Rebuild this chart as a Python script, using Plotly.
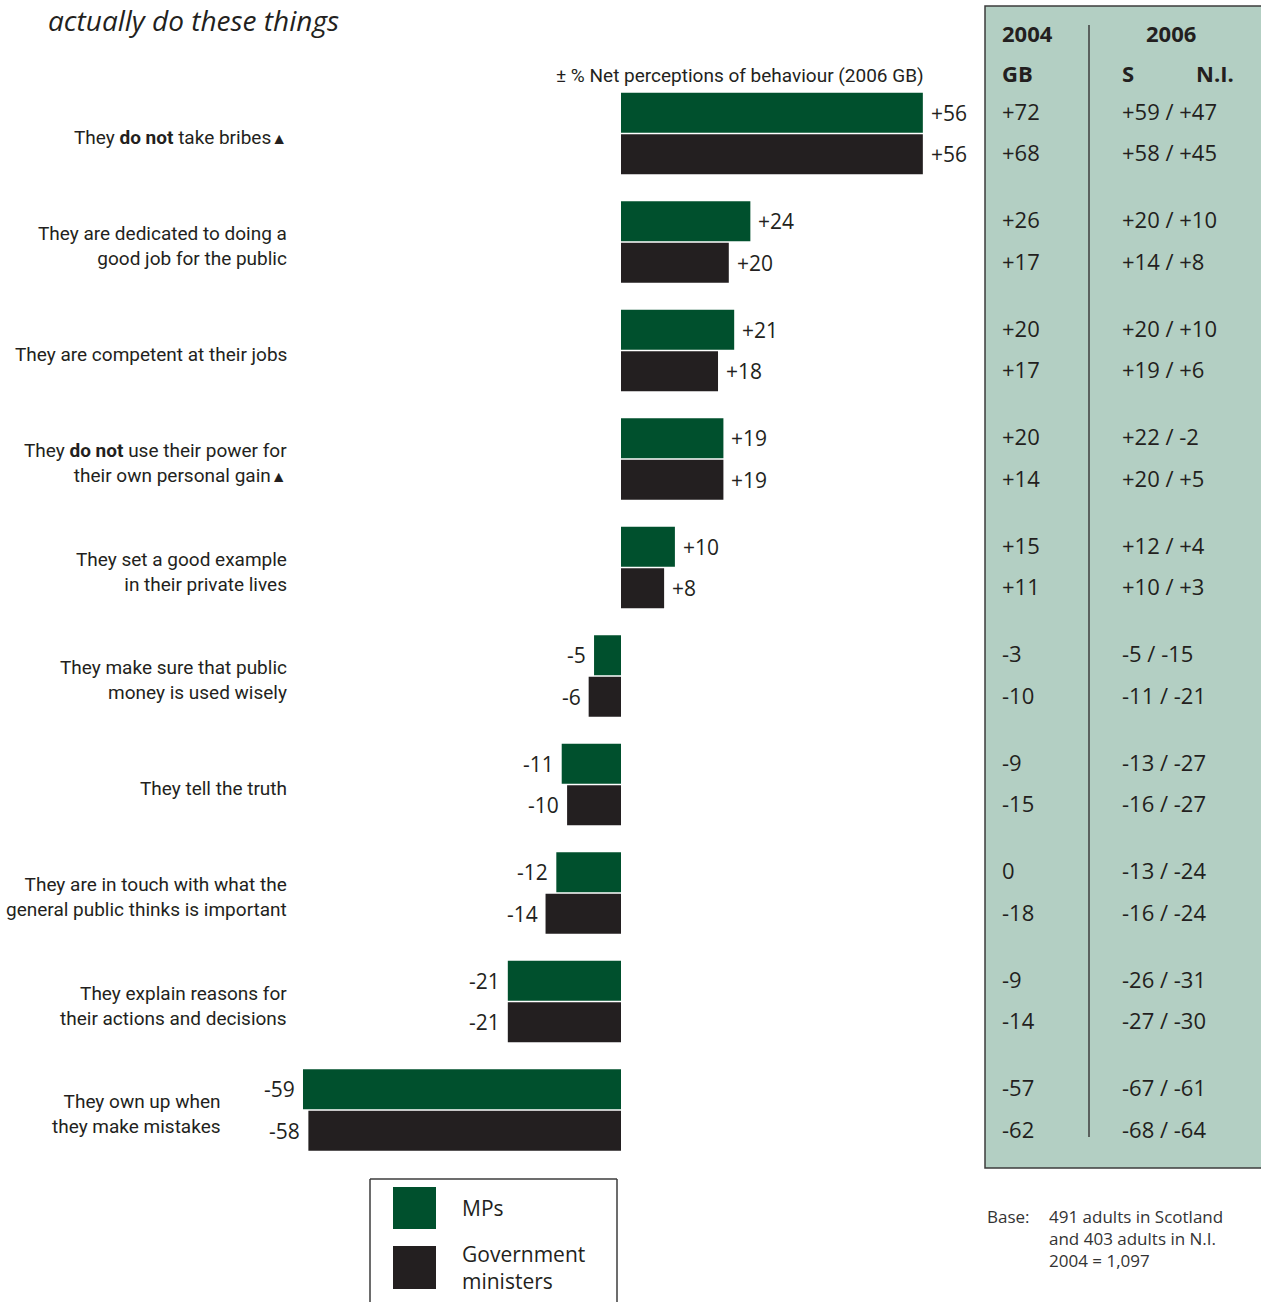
import plotly.graph_objects as go

# ---------------- data ----------------
categories = [
    "They <b>do not</b> take bribes<span style='font-size:16px'>▲</span>",
    "They are dedicated to doing a<br>good job for the public",
    "They are competent at their jobs",
    "They <b>do not</b> use their power for<br>their own personal gain<span style='font-size:16px'>▲</span>",
    "They set a good example<br>in their private lives",
    "They make sure that public<br>money is used wisely",
    "They tell the truth",
    "They are in touch with what the<br>general public thinks is important",
    "They explain reasons for<br>their actions and decisions",
    "They own up when<br>they make mistakes",
]
mps_2006 = [56, 24, 21, 19, 10, -5, -11, -12, -21, -59]
ministers_2006 = [56, 20, 18, 19, 8, -6, -10, -14, -21, -58]

gb2004_mps = [72, 26, 20, 20, 15, -3, -9, 0, -9, -57]
gb2004_ministers = [68, 17, 17, 14, 11, -10, -15, -18, -14, -62]
s2006_mps = [59, 20, 20, 22, 12, -5, -13, -13, -26, -67]
ni2006_mps = [47, 10, 10, -2, 4, -15, -27, -24, -31, -61]
s2006_ministers = [58, 14, 19, 20, 10, -11, -16, -16, -27, -68]
ni2006_ministers = [45, 8, 6, 5, 3, -21, -27, -24, -30, -64]

series_names = ["MPs", "Government<br>ministers"]

# ---------------- style ----------------
W, H = 1261, 1302
GREEN = "#00502D"
BLACK = "#231F20"
PANEL = "#B3CFC3"
LINE = "#3C3C3C"
TXT = "#231F20"
COND = "Roboto, sans-serif"
REG = "Open Sans, Noto Sans, sans-serif"

ZERO_PX = 621
PX_PER_UNIT = 5.39
xmin = -ZERO_PX / PX_PER_UNIT
xmax = (W - ZERO_PX) / PX_PER_UNIT
PITCH = 108.5
FIRST_CENTER = 133.5
ytop = -FIRST_CENTER / PITCH
ybot = ytop + H / PITCH


def px(x):
    return x / W


def py(y):
    return 1 - y / H


def fmt(v):
    return "0" if v == 0 else f"{v:+d}"


idx = list(range(len(categories)))
fig = go.Figure()
fig.add_trace(go.Bar(y=idx, x=mps_2006, orientation="h", name="MPs",
                     marker=dict(color=GREEN, line=dict(width=0)), showlegend=False))
fig.add_trace(go.Bar(y=idx, x=ministers_2006, orientation="h", name="Government ministers",
                     marker=dict(color=BLACK, line=dict(width=0)), showlegend=False))

annotations = []
shapes = []
half = 0.19125

# value labels
for i in idx:
    for vals, off in ((mps_2006, -half), (ministers_2006, half)):
        v = vals[i]
        annotations.append(dict(
            x=v, y=i + off, xref="x", yref="y", text=fmt(v), showarrow=False,
            xanchor="left" if v > 0 else "right", xshift=6 if v > 0 else -6,
            font=dict(family=REG, size=21, color=TXT)))

# category labels
for i, c in enumerate(categories):
    right_px = 223 if i == len(categories) - 1 else 289
    annotations.append(dict(
        x=px(right_px), y=i, xref="paper", yref="y", text=c, showarrow=False,
        xanchor="right", yanchor="middle", align="right", yshift=-4,
        font=dict(family=COND, size=19, color=TXT)))

# title & subtitle
annotations.append(dict(x=px(47), y=1, xref="paper", yref="paper",
                        text="<i>actually do these things</i>", showarrow=False,
                        xanchor="left", yanchor="top", borderpad=0,
                        font=dict(family=REG, size=28, color=TXT)))
annotations.append(dict(x=px(926), y=py(75), xref="paper", yref="paper",
                        text="± % Net perceptions of behaviour (2006 GB)", showarrow=False,
                        xanchor="right", yanchor="middle",
                        font=dict(family=COND, size=19, color=TXT)))

# table panel
shapes.append(dict(type="rect", xref="paper", yref="paper",
                   x0=px(985), x1=px(1275), y0=py(6), y1=py(1168),
                   fillcolor=PANEL, line=dict(color=LINE, width=1.5), layer="below"))
shapes.append(dict(type="line", xref="paper", yref="paper",
                   x0=px(1089), x1=px(1089), y0=py(25), y1=py(1137),
                   line=dict(color=LINE, width=1.5)))

hdr = dict(showarrow=False, xref="paper", yref="paper", yanchor="middle",
           font=dict(family=REG, size=22, color=TXT))
annotations.append(dict(hdr, x=px(1000), y=py(33), text="<b>2004</b>", xanchor="left"))
annotations.append(dict(hdr, x=px(1171), y=py(33), text="<b>2006</b>", xanchor="center"))
annotations.append(dict(hdr, x=px(1000), y=py(73), text="<b>GB</b>", xanchor="left"))
annotations.append(dict(hdr, x=px(1120), y=py(73), text="<b>S</b>", xanchor="left"))
annotations.append(dict(hdr, x=px(1194), y=py(73), text="<b>N.I.</b>", xanchor="left"))

for i in idx:
    rows = ((gb2004_mps[i], s2006_mps[i], ni2006_mps[i], -half),
            (gb2004_ministers[i], s2006_ministers[i], ni2006_ministers[i], half))
    for gb, s, ni, off in rows:
        annotations.append(dict(x=px(1000), y=i + off, xref="paper", yref="y",
                                text=fmt(gb), showarrow=False, xanchor="left", yshift=2,
                                font=dict(family=REG, size=22, color=TXT)))
        annotations.append(dict(x=px(1120), y=i + off, xref="paper", yref="y",
                                text=f"{fmt(s)} / {fmt(ni)}", showarrow=False,
                                xanchor="left", yshift=2,
                                font=dict(family=REG, size=22, color=TXT)))

# legend box
for x0, y0, x1, y1 in ((370, 1179, 370, 1310), (370, 1179, 617, 1179), (617, 1179, 617, 1310)):
    shapes.append(dict(type="line", xref="paper", yref="paper",
                       x0=px(x0), x1=px(x1), y0=py(y0), y1=py(y1),
                       line=dict(color=LINE, width=1.5)))
for (y0, y1), col, name, ty in (((1187, 1229), GREEN, series_names[0], 1208),
                                 ((1246, 1289), BLACK, series_names[1], 1267)):
    shapes.append(dict(type="rect", xref="paper", yref="paper",
                       x0=px(393), x1=px(436), y0=py(y0), y1=py(y1),
                       fillcolor=col, line=dict(width=0)))
    annotations.append(dict(x=px(460), y=py(ty), xref="paper", yref="paper", text=name,
                            showarrow=False, xanchor="left", yanchor="middle", align="left",
                            font=dict(family=REG, size=21, color=TXT)))

# base note
note = dict(showarrow=False, xref="paper", yref="paper", xanchor="left", yanchor="top",
            align="left", font=dict(family=REG, size=17, color="#333333"))
annotations.append(dict(note, x=px(985), y=py(1203), text="Base:"))
annotations.append(dict(note, x=px(1047), y=py(1203),
                        text="491 adults in Scotland<br>and 403 adults in N.I.<br>2004 = 1,097"))

fig.update_layout(
    width=W, height=H, margin=dict(l=0, r=0, t=0, b=0),
    paper_bgcolor="white", plot_bgcolor="rgba(0,0,0,0)",
    barmode="group", bargap=0.235, bargroupgap=0.036,
    xaxis=dict(range=[xmin, xmax], visible=False, fixedrange=True),
    yaxis=dict(range=[ybot, ytop], visible=False, fixedrange=True),
    annotations=annotations, shapes=shapes, showlegend=False,
)

fig.write_html("out.html", post_script="document.body.style.margin='0';",
               config={"displayModeBar": False})
